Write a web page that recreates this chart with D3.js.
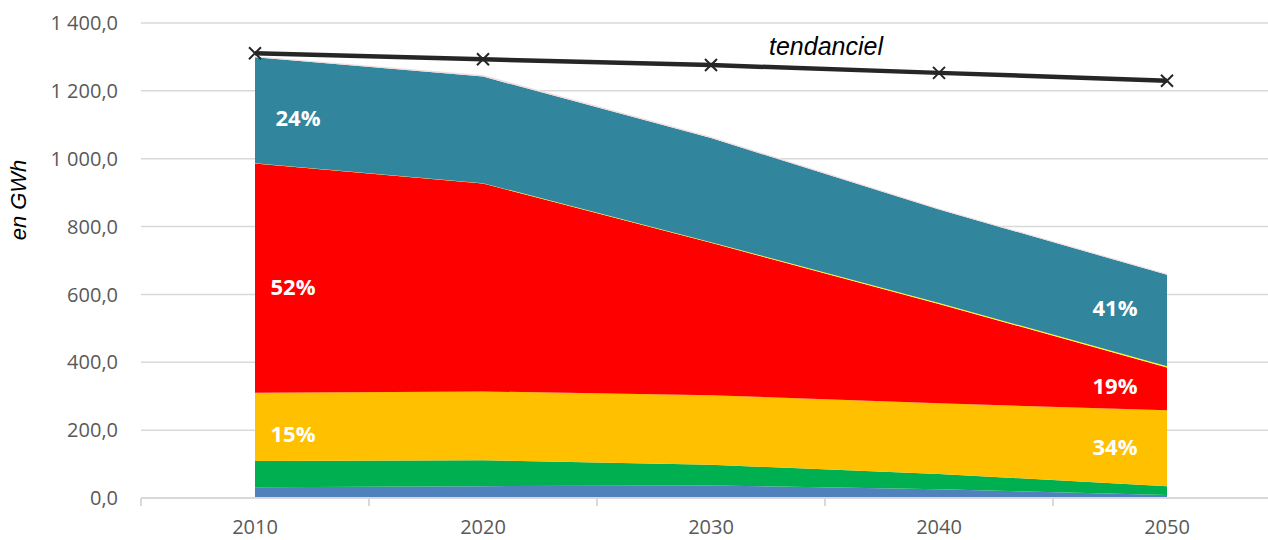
<!DOCTYPE html>
<html>
<head>
<meta charset="utf-8">
<script src="https://cdn.jsdelivr.net/npm/d3@7"></script>
<style>
  html, body { margin: 0; padding: 0; background: #fff; }
  svg { display: block; }
</style>
</head>
<body>
<svg id="chart" width="1268" height="540"></svg>
<script>
// Years on the category axis
const years = ["2010", "2020", "2030", "2040", "2050"];

// Stacked consumption by source, in GWh (bottom to top)
const serieBleu   = [32, 35, 37, 26, 9];
const serieVerte  = [77, 76, 61, 45, 26];
const serieJaune  = [201, 203, 205, 208, 224];
const serieRouge  = [676, 613, 449, 293, 126];
const serieFine   = [1, 1, 2, 3, 3];
const serieBleuCanard = [312, 314, 307, 275, 270];
const serieRose   = [3, 5, 4, 3, 3];

// Trend scenario
const tendanciel = [1311, 1293, 1276, 1253, 1230];

// Value axis ticks
const yTicks = [0, 200, 400, 600, 800, 1000, 1200, 1400];

const layers = [
  { key: "bleu", values: serieBleu, color: "#4F81BD" },
  { key: "verte", values: serieVerte, color: "#00B050" },
  { key: "jaune", values: serieJaune, color: "#FFC000" },
  { key: "rouge", values: serieRouge, color: "#FF0000" },
  { key: "fine", values: serieFine, color: "#FFFF00" },
  { key: "canard", values: serieBleuCanard, color: "#31859C" },
  { key: "rose", values: serieRose, color: "#F2DCDB" }
];

const rows = years.map((y, i) => {
  const r = { year: y };
  layers.forEach(l => { r[l.key] = l.values[i]; });
  return r;
});

const svg = d3.select("#chart");
const plot = { left: 141, right: 1281, top: 23, bottom: 498 };

const x = d3.scaleBand().domain(years).range([plot.left, plot.right]);
const cx = d => x(d) + x.bandwidth() / 2;
const y = d3.scaleLinear().domain([0, 1400]).range([plot.bottom, plot.top]);

const fr = d3.formatLocale({ decimal: ",", thousands: " ", grouping: [3], currency: ["", " €"] });
const fmt = fr.format(",.1f");

// Horizontal gridlines
svg.append("g")
  .selectAll("line")
  .data(yTicks.filter(t => t > 0))
  .join("line")
  .attr("x1", plot.left).attr("x2", 1268)
  .attr("y1", d => y(d)).attr("y2", d => y(d))
  .attr("stroke", "#D9D9D9").attr("stroke-width", 1.5);

// Value axis labels
svg.append("g")
  .selectAll("text")
  .data(yTicks)
  .join("text")
  .attr("x", 118).attr("y", d => y(d))
  .attr("dy", "0.36em")
  .attr("text-anchor", "end")
  .attr("font-family", "'Open Sans', sans-serif")
  .attr("font-size", 20)
  .attr("fill", "#595959")
  .text(d => fmt(d));

// Axis title
svg.append("text")
  .attr("transform", "translate(26,200) rotate(-90)")
  .attr("text-anchor", "middle")
  .attr("font-family", "'Liberation Sans', Arial, sans-serif")
  .attr("font-style", "italic")
  .attr("font-size", 22)
  .attr("fill", "#000")
  .text("en GWh");

// Stacked areas
const stack = d3.stack().keys(layers.map(l => l.key));
const series = stack(rows);
const area = d3.area()
  .x((d, i) => cx(years[i]))
  .y0(d => y(d[0]))
  .y1(d => y(d[1]));

svg.append("g")
  .selectAll("path")
  .data(series)
  .join("path")
  .attr("d", area)
  .attr("fill", (d, i) => layers[i].color);

// Category axis line and tick marks between categories
const xAxis = svg.append("g");
xAxis.append("line")
  .attr("x1", plot.left).attr("x2", 1268)
  .attr("y1", plot.bottom).attr("y2", plot.bottom)
  .attr("stroke", "#D9D9D9").attr("stroke-width", 2);
xAxis.selectAll("line.tick")
  .data(years)
  .join("line")
  .attr("class", "tick")
  .attr("x1", d => x(d)).attr("x2", d => x(d))
  .attr("y1", plot.bottom).attr("y2", plot.bottom + 8)
  .attr("stroke", "#D9D9D9").attr("stroke-width", 2);
xAxis.selectAll("text")
  .data(years)
  .join("text")
  .attr("x", d => cx(d)).attr("y", 534)
  .attr("text-anchor", "middle")
  .attr("font-family", "'Open Sans', sans-serif")
  .attr("font-size", 20)
  .attr("fill", "#595959")
  .text(d => d);

// Share labels (percentage of the yearly total)
const totals = rows.map(r => layers.reduce((s, l) => s + r[l.key], 0));
const pctFmt = v => Math.round(v * 100) + "%";
const labelSpecs = [
  { key: "canard", idx: 0, dx: 43, dy: 8 },
  { key: "rouge", idx: 0, dx: 38, dy: 9 },
  { key: "jaune", idx: 0, dx: 38, dy: 7 },
  { key: "canard", idx: 4, dx: -52, dy: -12 },
  { key: "rouge", idx: 4, dx: -52, dy: -3 },
  { key: "jaune", idx: 4, dx: -52, dy: -1 }
];
svg.append("g")
  .selectAll("text")
  .data(labelSpecs)
  .join("text")
  .attr("x", d => cx(years[d.idx]) + d.dx)
  .attr("y", d => {
    const s = series.find(se => se.key === d.key)[d.idx];
    return y((s[0] + s[1]) / 2) + d.dy;
  })
  .attr("dy", "0.36em")
  .attr("text-anchor", "middle")
  .attr("font-family", "'Open Sans', sans-serif")
  .attr("font-weight", "bold")
  .attr("font-size", 22)
  .attr("fill", "#fff")
  .text(d => pctFmt(rows[d.idx][d.key] / totals[d.idx]));

// Trend line with cross markers
const line = d3.line().x((d, i) => cx(years[i])).y(d => y(d));
svg.append("path")
  .datum(tendanciel)
  .attr("d", line)
  .attr("fill", "none")
  .attr("stroke", "#262626")
  .attr("stroke-width", 4.5);

const m = 6;
svg.append("g")
  .selectAll("path")
  .data(tendanciel)
  .join("path")
  .attr("d", (d, i) => {
    const px = cx(years[i]), py = y(d);
    return `M${px - m},${py - m}L${px + m},${py + m}M${px - m},${py + m}L${px + m},${py - m}`;
  })
  .attr("stroke", "#262626")
  .attr("stroke-width", 2)
  .attr("fill", "none");

svg.append("text")
  .attr("x", 826).attr("y", 55)
  .attr("text-anchor", "middle")
  .attr("font-family", "'Liberation Sans', Arial, sans-serif")
  .attr("font-style", "italic")
  .attr("font-size", 25)
  .attr("fill", "#000")
  .text("tendanciel");
</script>
</body>
</html>
